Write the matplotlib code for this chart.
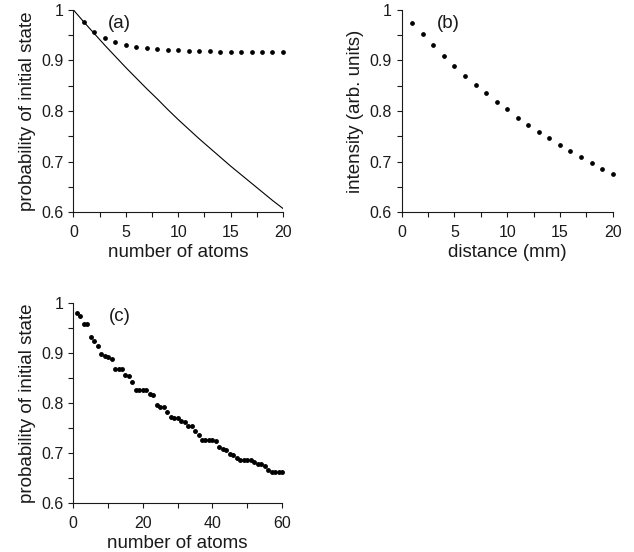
import numpy as np
import matplotlib.pyplot as plt
from matplotlib.ticker import MultipleLocator, FuncFormatter

plt.rcParams['font.family'] = ['Liberation Sans', 'DejaVu Sans']

# panel (a): dots and solid curve
atoms_a = list(range(1, 21))
prob_a = [0.976, 0.957, 0.945, 0.936, 0.931, 0.926, 0.924, 0.922, 0.920, 0.920,
          0.919, 0.918, 0.918, 0.917, 0.917, 0.916, 0.916, 0.916, 0.916, 0.916]
line_x = list(range(0, 21))
line_y = [1.0, 0.976, 0.953, 0.930, 0.908, 0.886, 0.865, 0.844, 0.824, 0.803,
          0.783, 0.764, 0.745, 0.727, 0.709, 0.691, 0.674, 0.657, 0.640, 0.623, 0.607]

# panel (b)
dist_b = list(range(1, 21))
inten_b = [0.975, 0.952, 0.930, 0.909, 0.889, 0.870, 0.852, 0.835, 0.818, 0.803,
           0.787, 0.773, 0.759, 0.746, 0.733, 0.720, 0.709, 0.697, 0.686, 0.676]

# panel (c)
atoms_c = list(range(1, 61))
prob_c = [0.979, 0.974, 0.957, 0.957, 0.932, 0.923, 0.913, 0.898, 0.893, 0.891,
          0.888, 0.867, 0.867, 0.867, 0.855, 0.854, 0.841, 0.825, 0.825, 0.825,
          0.825, 0.817, 0.815, 0.796, 0.791, 0.791, 0.782, 0.771, 0.769, 0.769,
          0.763, 0.761, 0.753, 0.753, 0.743, 0.735, 0.725, 0.725, 0.725, 0.725,
          0.724, 0.711, 0.707, 0.705, 0.697, 0.695, 0.690, 0.685, 0.685, 0.685,
          0.685, 0.681, 0.677, 0.677, 0.673, 0.666, 0.662, 0.662, 0.662, 0.662]

yticks = [0.6, 0.7, 0.8, 0.9, 1.0]

fig = plt.figure(figsize=(6.34, 5.52), dpi=100)
ax_a = fig.add_axes([0.1159, 0.6159, 0.3304, 0.366])
ax_b = fig.add_axes([0.6336, 0.6159, 0.3328, 0.366])
ax_c = fig.add_axes([0.1156, 0.0893, 0.3292, 0.3618])

tc = '#1a1a1a'

def style(ax, xmax, xmajor, xminor, xlabel, ylabel):
    ax.set_xlim(0, xmax)
    ax.set_ylim(0.6, 1.0)
    ax.spines['top'].set_visible(False)
    ax.spines['right'].set_visible(False)
    for s in ['left', 'bottom']:
        ax.spines[s].set_linewidth(0.8)
        ax.spines[s].set_color(tc)
    ax.xaxis.set_major_locator(MultipleLocator(xmajor))
    ax.xaxis.set_minor_locator(MultipleLocator(xminor))
    ax.set_yticks(yticks)
    ax.yaxis.set_minor_locator(MultipleLocator(0.05))
    ax.yaxis.set_major_formatter(FuncFormatter(lambda v, p: '1' if abs(v - 1) < 1e-9 else '%.1f' % v))
    ax.tick_params(which='both', direction='out', length=3.5, width=0.8, color=tc,
                   labelsize=11.5, labelcolor=tc)
    ax.tick_params(axis='x', pad=6)
    ax.set_xlabel(xlabel, fontsize=13.5, color=tc, labelpad=3)
    ax.set_ylabel(ylabel, fontsize=13.5, color=tc, labelpad=4)

ax_a.plot(line_x, line_y, color='black', lw=0.8)
ax_a.plot(atoms_a, prob_a, 'o', color='black', ms=2.4, clip_on=False)
style(ax_a, 20, 5, 2.5, 'number of atoms', 'probability of initial state')
ax_a.text(3.3, 0.974, '(a)', fontsize=13.5, va='center', color=tc)

ax_b.plot(dist_b, inten_b, 'o', color='black', ms=2.4, clip_on=False)
style(ax_b, 20, 5, 2.5, 'distance (mm)', 'intensity (arb. units)')
ax_b.text(3.3, 0.974, '(b)', fontsize=13.5, va='center', color=tc)

ax_c.plot(atoms_c, prob_c, 'o', color='black', ms=2.5, clip_on=False)
style(ax_c, 60, 20, 10, 'number of atoms', 'probability of initial state')
ax_c.text(10.1, 0.972, '(c)', fontsize=13.5, va='center', color=tc)

fig.savefig('out.png', dpi=100)
